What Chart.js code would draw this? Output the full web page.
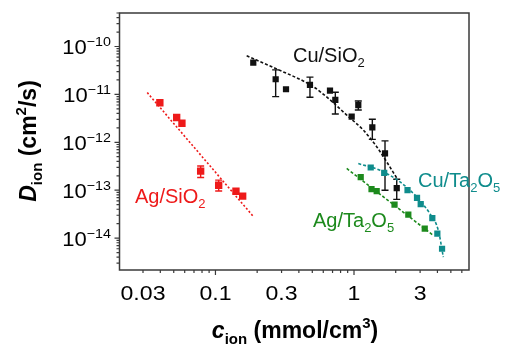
<!DOCTYPE html>
<html>
<head>
<meta charset="utf-8">
<script src="https://cdn.jsdelivr.net/npm/chart.js@4"></script>
<style>
  html, body { margin: 0; padding: 0; background: #fff; }
  #wrap { width: 510px; height: 344px; }
</style>
</head>
<body>
<div id="wrap"><canvas id="chart" width="510" height="344"></canvas></div>
<script>
// Ag/SiO2
const agSiO2X = [0.0397, 0.0525, 0.0573, 0.0782, 0.1055, 0.1406, 0.1572];
const agSiO2Y = [6.7e-12, 3.3e-12, 2.5e-12, 2.5e-13, 1.27e-13, 9.5e-14, 7.5e-14];
const agSiO2Lo = [null, null, null, 1.84e-13, 9.6e-14, null, null];
const agSiO2Hi = [null, null, null, 3.2e-13, 1.62e-13, null, null];
const agSiO2FitX = [0.0322, 0.1875];
const agSiO2FitY = [1.09e-11, 2.84e-14];

// Cu/SiO2
const cuSiO2X = [0.1875, 0.272, 0.323, 0.481, 0.671, 0.733, 0.962, 1.074, 1.356, 1.674, 2.034];
const cuSiO2Y = [4.6e-11, 2.07e-11, 1.28e-11, 1.58e-11, 1.2e-11, 7.7e-12, 3.45e-12, 6.0e-12, 2.05e-12, 5.9e-13, 1.11e-13];
const cuSiO2Lo = [null, 8.97e-12, null, 8.7e-12, null, 3.9e-12, null, 4.72e-12, 1.15e-12, 1.0e-13, 6.45e-14];
const cuSiO2Hi = [null, 3.25e-11, null, 2.29e-11, null, 1.11e-11, null, 7.3e-12, 3.02e-12, 1.07e-12, 1.69e-13];
const cuSiO2FitX = [0.168, 0.2765, 0.508, 0.671, 0.886, 1.167, 1.458, 1.722, 2.034];
const cuSiO2FitY = [6.4e-11, 3.4e-11, 1.45e-11, 7.7e-12, 3.7e-12, 1.8e-12, 8.1e-13, 3.9e-13, 1.8e-13];

// Cu/Ta2O5
const cuTaX = [1.32, 1.652, 2.434, 2.85, 3.03, 3.675, 3.995, 4.32];
const cuTaY = [2.98e-13, 2.3e-13, 1.0e-13, 6.95e-14, 5.1e-14, 2.6e-14, 1.24e-14, 6.0e-15];
const cuTaFitX = [1.074, 1.541, 2.148, 2.836, 3.538, 4.061, 4.414];
const cuTaFitY = [3.6e-13, 2.6e-13, 1.49e-13, 7.2e-14, 3.2e-14, 1.45e-14, 4.0e-15];

// Ag/Ta2O5
const agTaX = [1.118, 1.338, 1.458, 1.961, 2.466, 3.24];
const agTaY = [1.87e-13, 1.05e-13, 9.6e-14, 5.0e-14, 3.1e-14, 1.57e-14];
const agTaFitX = [0.886, 3.737];
const agTaFitY = [2.84e-13, 1.14e-14];

// axes
const xTickValues = [0.03, 0.1, 0.3, 1, 3];
const xTickLabels = ['0.03', '0.1', '0.3', '1', '3'];
const yTickExps = [-10, -11, -12, -13, -14];

const RED = '#ee1a1a', BLACK = '#111111', TEAL = '#0f8c8c', GREEN = '#1d8a1d';
const FONT = '"Liberation Sans", Arial, sans-serif';

const pts = (xs, ys) => xs.map((x, i) => ({ x: x, y: ys[i] }));

function markers(label, xs, ys, color, r) {
    return {
        label: label,
        data: pts(xs, ys),
        showLine: false,
        pointStyle: 'rect',
        pointRadius: r,
        backgroundColor: color,
        borderColor: color,
        borderWidth: 0
    };
}

function fitLine(xs, ys, color, dash) {
    return {
        data: pts(xs, ys),
        showLine: true,
        pointRadius: 0,
        borderColor: color,
        borderWidth: 1.6,
        borderDash: dash,
        cubicInterpolationMode: 'monotone',
        fill: false
    };
}

// text with sub/superscript pieces: [text, mode] with mode '', 'sub', 'sup', 'it'
function drawRich(ctx, segs, x, y, size, opts) {
    const weight = opts.weight || 'normal';
    const align = opts.align || 'left';
    const stretch = opts.stretch || 1;
    const parts = segs.map(([t, m]) => {
        const small = m === 'sub' || m === 'sup';
        const s = small ? Math.round(size * 0.64) : size;
        const font = (m === 'it' ? 'italic ' : '') + weight + ' ' + s + 'px ' + FONT;
        ctx.font = font;
        return { t: t, m: m, font: font, w: ctx.measureText(t).width };
    });
    const total = parts.reduce((a, p) => a + p.w, 0) * stretch;
    let start = x;
    if (align === 'right') start = x - total;
    if (align === 'center') start = x - total / 2;
    ctx.save();
    ctx.fillStyle = opts.color || '#000';
    ctx.textBaseline = 'alphabetic';
    ctx.textAlign = 'left';
    ctx.translate(start, y);
    ctx.scale(stretch, 1);
    let cx = 0;
    parts.forEach(p => {
        ctx.font = p.font;
        const dy = p.m === 'sub' ? size * 0.27 : (p.m === 'sup' ? -size * 0.42 : 0);
        ctx.fillText(p.t, cx, dy);
        cx += p.w;
    });
    ctx.restore();
}

const errorSets = [
    { xs: agSiO2X, lo: agSiO2Lo, hi: agSiO2Hi, color: RED },
    { xs: cuSiO2X, lo: cuSiO2Lo, hi: cuSiO2Hi, color: BLACK }
];

const seriesLabels = [
    { segs: [['Cu/SiO', ''], ['2', 'sub']], x: 293, y: 61.5, color: BLACK },
    { segs: [['Ag/SiO', ''], ['2', 'sub']], x: 135, y: 202.5, color: RED },
    { segs: [['Cu/Ta', ''], ['2', 'sub'], ['O', ''], ['5', 'sub']], x: 418, y: 186.5, color: TEAL },
    { segs: [['Ag/Ta', ''], ['2', 'sub'], ['O', ''], ['5', 'sub']], x: 313, y: 226.5, color: GREEN }
];

const axesPlugin = {
    id: 'axesPlugin',
    beforeDatasetsDraw(chart) {
        const ctx = chart.ctx;
        const xs = chart.scales.x, ys = chart.scales.y;
        ctx.save();
        ctx.lineWidth = 1.4;
        errorSets.forEach(set => {
            ctx.strokeStyle = set.color;
            set.xs.forEach((xv, i) => {
                if (set.lo[i] == null) return;
                const px = xs.getPixelForValue(xv);
                const y1 = ys.getPixelForValue(set.hi[i]);
                const y2 = ys.getPixelForValue(set.lo[i]);
                ctx.beginPath();
                ctx.moveTo(px, y1); ctx.lineTo(px, y2);
                ctx.moveTo(px - 3.5, y1); ctx.lineTo(px + 3.5, y1);
                ctx.moveTo(px - 3.5, y2); ctx.lineTo(px + 3.5, y2);
                ctx.stroke();
            });
        });
        ctx.restore();
    },
    afterDraw(chart) {
        const ctx = chart.ctx;
        const a = chart.chartArea;
        const xs = chart.scales.x, ys = chart.scales.y;
        ctx.save();
        ctx.strokeStyle = '#3a3a3a';
        ctx.lineWidth = 1.5;
        ctx.strokeRect(a.left, a.top, a.right - a.left, a.bottom - a.top);

        ctx.lineWidth = 1.2;
        ctx.beginPath();
        // y ticks (log, outward)
        for (let e = -15; e <= -9; e++) {
            for (let m = 1; m <= 9; m++) {
                const v = m * Math.pow(10, e);
                if (v < ys.min || v > ys.max) continue;
                const py = ys.getPixelForValue(v);
                const len = m === 1 ? 5 : 3;
                ctx.moveTo(a.left, py); ctx.lineTo(a.left - len, py);
            }
        }
        // x ticks (log, outward)
        for (let e = -2; e <= 0; e++) {
            for (let m = 1; m <= 9; m++) {
                const v = m * Math.pow(10, e);
                if (v < xs.min || v > xs.max) continue;
                const px = xs.getPixelForValue(v);
                const len = m === 1 ? 5 : 3;
                ctx.moveTo(px, a.bottom); ctx.lineTo(px, a.bottom + len);
            }
        }
        ctx.stroke();
        ctx.restore();

        yTickExps.forEach(e => {
            const py = ys.getPixelForValue(Math.pow(10, e));
            drawRich(ctx, [['10', ''], ['\u2212' + Math.abs(e), 'sup']], 111, py + 8, 20, { align: 'right', stretch: 1.1 });
        });
        xTickValues.forEach((v, i) => {
            const px = xs.getPixelForValue(v);
            drawRich(ctx, [[xTickLabels[i], '']], px, 300, 21, { align: 'center', stretch: 1.1 });
        });

        // axis titles
        drawRich(ctx, [['c', 'it'], ['ion', 'sub'], [' (mmol/cm', ''], ['3', 'sup'], [')', '']],
            295, 338, 23, { align: 'center', weight: 'bold' });
        ctx.save();
        ctx.translate(36, 141);
        ctx.rotate(-Math.PI / 2);
        drawRich(ctx, [['D', 'it'], ['ion', 'sub'], [' (cm', ''], ['2', 'sup'], ['/s)', '']],
            0, 0, 23, { align: 'center', weight: 'bold' });
        ctx.restore();

        seriesLabels.forEach(l => drawRich(ctx, l.segs, l.x, l.y, 20, { color: l.color }));
    }
};

new Chart(document.getElementById('chart'), {
    type: 'scatter',
    data: {
        datasets: [
            fitLine(agSiO2FitX, agSiO2FitY, RED, [2, 2]),
            fitLine(cuSiO2FitX, cuSiO2FitY, BLACK, [3, 2]),
            fitLine(cuTaFitX, cuTaFitY, TEAL, [3, 2]),
            fitLine(agTaFitX, agTaFitY, GREEN, [3, 2]),
            markers('Ag/SiO2', agSiO2X, agSiO2Y, RED, 5.2),
            markers('Cu/SiO2', cuSiO2X, cuSiO2Y, BLACK, 4.4),
            markers('Cu/Ta2O5', cuTaX, cuTaY, TEAL, 4.4),
            markers('Ag/Ta2O5', agTaX, agTaY, GREEN, 4.4)
        ]
    },
    options: {
        responsive: false,
        animation: false,
        events: [],
        layout: { padding: { left: 119.5, right: 41, top: 13, bottom: 74 } },
        plugins: { legend: { display: false }, tooltip: { enabled: false } },
        scales: {
            x: { type: 'logarithmic', display: false, min: 0.0203, max: 6.76 },
            y: { type: 'logarithmic', display: false, min: 2.16e-15, max: 5.0e-10 }
        }
    },
    plugins: [axesPlugin]
});
</script>
</body>
</html>
